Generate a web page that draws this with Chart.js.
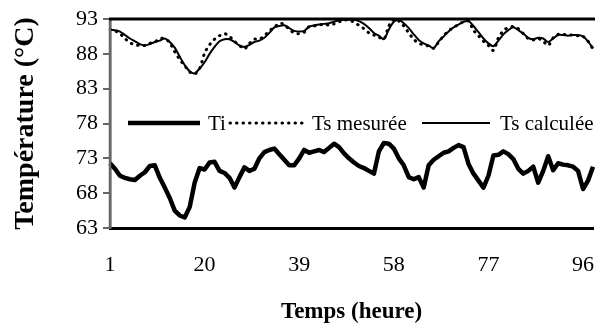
<!DOCTYPE html>
<html>
<head>
<meta charset="utf-8">
<script src="https://cdn.jsdelivr.net/npm/chart.js@4"></script>
<style>
	html, body { margin: 0; padding: 0; background: #fff; overflow: hidden; }
	#wrap { width: 600px; height: 334px; }
</style>
</head>
<body>
<div id="wrap"><canvas id="chart1"></canvas></div>
<script>
//values, one per hour
const hours = Array.from({length: 98}, (v, i) => String(i + 1));
const tiValues = [
	72.3, 71.5, 70.5, 70.2, 70.0, 69.9, 70.5, 71.0, 71.9, 72.0,
	70.2, 68.8, 67.3, 65.5, 64.8, 64.5, 66.0, 69.5, 71.6, 71.4,
	72.4, 72.5, 71.2, 70.9, 70.2, 68.8, 70.3, 71.7, 71.2, 71.5,
	73.0, 73.9, 74.2, 74.4, 73.6, 72.8, 72.0, 72.0, 73.0, 74.2,
	73.8, 74.0, 74.2, 73.9, 74.5, 75.1, 74.6, 73.7, 73.0, 72.4,
	71.9, 71.6, 71.2, 70.8, 74.0, 75.2, 75.1, 74.4, 73.0, 72.0,
	70.3, 70.0, 70.3, 68.8, 72.0, 72.8, 73.3, 73.8, 74.0, 74.5,
	74.9, 74.6, 72.2, 70.8, 69.8, 68.8, 70.5, 73.4, 73.5, 74.0,
	73.6, 72.9, 71.5, 70.8, 71.2, 71.8, 69.5, 71.2, 73.3, 71.3,
	72.3, 72.1, 72.0, 71.8, 71.2, 68.6, 69.8, 71.8
];
const tsMesuree = [
	91.5, 91.3, 90.9, 90.2, 89.6, 89.3, 89.2, 89.2, 89.5, 89.7,
	90.2, 90.2, 89.6, 88.3, 87.2, 86.3, 85.4, 85.1, 85.9, 88.1,
	89.3, 90.1, 90.6, 90.9, 90.5, 89.8, 89.2, 88.7, 89.5, 90.1,
	90.1, 90.6, 91.3, 91.8, 92.4, 92.2, 91.5, 91.0, 90.9, 91.1,
	91.9, 92.0, 92.1, 92.3, 92.1, 92.3, 92.6, 92.8, 92.9, 92.5,
	92.1, 91.6, 91.0, 90.7, 90.4, 90.1, 92.0, 93.0, 92.7, 92.0,
	91.0, 90.1, 89.5, 89.3, 89.1, 88.8, 89.7, 90.6, 91.3, 91.8,
	92.2, 92.6, 92.7, 91.4, 90.6, 89.8, 89.2, 88.5, 90.3, 91.3,
	91.8, 91.9, 91.6, 90.9, 90.2, 90.0, 90.2, 89.8, 89.2, 90.3,
	90.8, 90.8, 90.7, 90.7, 90.6, 90.5, 89.8, 88.7
];
const tsCalculee = [
	91.4, 91.4, 91.2, 90.7, 90.2, 89.8, 89.4, 89.2, 89.4, 89.7,
	89.9, 90.2, 89.7, 88.9, 87.6, 86.4, 85.5, 85.2, 85.9, 86.8,
	88.0, 89.0, 89.8, 90.1, 90.1, 89.7, 89.2, 89.0, 89.3, 89.7,
	89.9, 90.3, 91.0, 91.8, 92.0, 92.1, 91.7, 91.3, 91.2, 91.3,
	91.9, 92.1, 92.2, 92.3, 92.4, 92.6, 92.8, 92.9, 92.9, 92.9,
	92.7, 92.3, 91.7, 91.0, 90.6, 90.1, 91.5, 92.6, 92.9, 92.4,
	91.7, 90.8, 90.0, 89.5, 89.2, 88.8, 89.8, 90.5, 91.2, 91.8,
	92.2, 92.6, 92.7, 92.0, 91.1, 90.2, 89.5, 89.1, 89.9, 90.8,
	91.4, 91.8, 91.4, 90.9, 90.3, 90.1, 90.3, 90.2, 89.7, 90.2,
	90.7, 90.7, 90.6, 90.7, 90.7, 90.5, 89.8, 88.8
];
const seriesNames = ['Ti', 'Ts mesurée', 'Ts calculée'];

const serif = 'Liberation Serif, Times New Roman, serif';

//frame lines + legend drawn inside the plot, like the original
const innerLegend = {
	id: 'innerLegend',
	afterDraw(chart) {
		const ctx = chart.ctx;
		const area = chart.chartArea;
		ctx.save();
		ctx.strokeStyle = '#666';
		ctx.lineWidth = 2.5;
		ctx.beginPath();
		ctx.moveTo(area.left, area.top);
		ctx.lineTo(area.left, area.bottom);
		ctx.stroke();
		ctx.strokeStyle = '#000';
		ctx.lineWidth = 3;
		ctx.beginPath();
		ctx.moveTo(area.left - 1, area.top);
		ctx.lineTo(area.right + 10, area.top);
		ctx.stroke();
		ctx.restore();

		const y = 123;
		const spots = [[128, 200, 208], [230, 302, 312], [422, 490, 500]];
		chart.data.datasets.forEach((ds, i) => {
			const [x0, x1, tx] = spots[i];
			ctx.save();
			ctx.strokeStyle = ds.borderColor;
			ctx.lineWidth = ds.borderWidth;
			ctx.lineCap = ds.borderCapStyle || 'butt';
			ctx.setLineDash(ds.borderDash || []);
			ctx.beginPath();
			ctx.moveTo(x0, y);
			ctx.lineTo(x1, y);
			ctx.stroke();
			ctx.setLineDash([]);
			ctx.fillStyle = '#000';
			ctx.font = '21px ' + serif;
			ctx.textBaseline = 'middle';
			ctx.fillText(ds.label, tx, y + 1);
			ctx.restore();
		});
	}
};

let config = {
	type: 'line',
	data: {
		labels: hours,
		datasets: [
			{
				label: seriesNames[0],
				data: tiValues,
				borderColor: '#000',
				borderWidth: 4.5,
				tension: 0,
				pointRadius: 0,
				borderJoinStyle: 'round'
			},
			{
				label: seriesNames[1],
				data: tsMesuree,
				borderColor: '#000',
				borderWidth: 3,
				borderDash: [0.5, 6],
				borderCapStyle: 'round',
				tension: 0.3,
				pointRadius: 0
			},
			{
				label: seriesNames[2],
				data: tsCalculee,
				borderColor: '#000',
				borderWidth: 2,
				tension: 0.3,
				pointRadius: 0
			}
		]
	},
	options: {
		responsive: true,
		maintainAspectRatio: false,
		animation: false,
		layout: { padding: { top: 19, right: 7, left: 0, bottom: 0 } },
		plugins: {
			legend: { display: false },
			tooltip: { enabled: false }
		},
		scales: {
			x: {
				offset: false,
				border: { display: true, color: '#000', width: 3 },
				grid: { display: true, drawOnChartArea: false, drawTicks: false },
				ticks: {
					autoSkip: false,
					maxRotation: 0,
					padding: 24,
					color: '#000',
					font: { family: serif, size: 22 },
					callback: function(value, index) {
						return index % 19 == 0 ? this.getLabelForValue(value) : null;
					}
				},
				title: {
					display: true,
					text: 'Temps (heure)',
					color: '#000',
					font: { family: serif, size: 23, weight: 'bold' },
					padding: { top: 0, bottom: 8 }
				},
				afterFit: function(scale) {
					scale.height = 106;
					scale.paddingLeft = 0;
					scale.paddingRight = 0;
				}
			},
			y: {
				min: 63,
				max: 93,
				border: { display: true, color: '#666', width: 2.5 },
				grid: { display: true, drawOnChartArea: false, drawTicks: true, tickLength: 7, color: '#666', lineWidth: 2 },
				ticks: {
					stepSize: 5,
					padding: 5,
					color: '#000',
					font: { family: serif, size: 22 }
				},
				title: {
					display: true,
					text: 'Température (°C)',
					color: '#000',
					font: { family: serif, size: 28, weight: 'bold' },
					padding: { top: 9, bottom: 0 }
				},
				afterFit: function(scale) { scale.width = 110; }
			}
		}
	},
	plugins: [innerLegend]
};

window.container1 = new Chart(document.getElementById('chart1'), config);
</script>
</body>
</html>
